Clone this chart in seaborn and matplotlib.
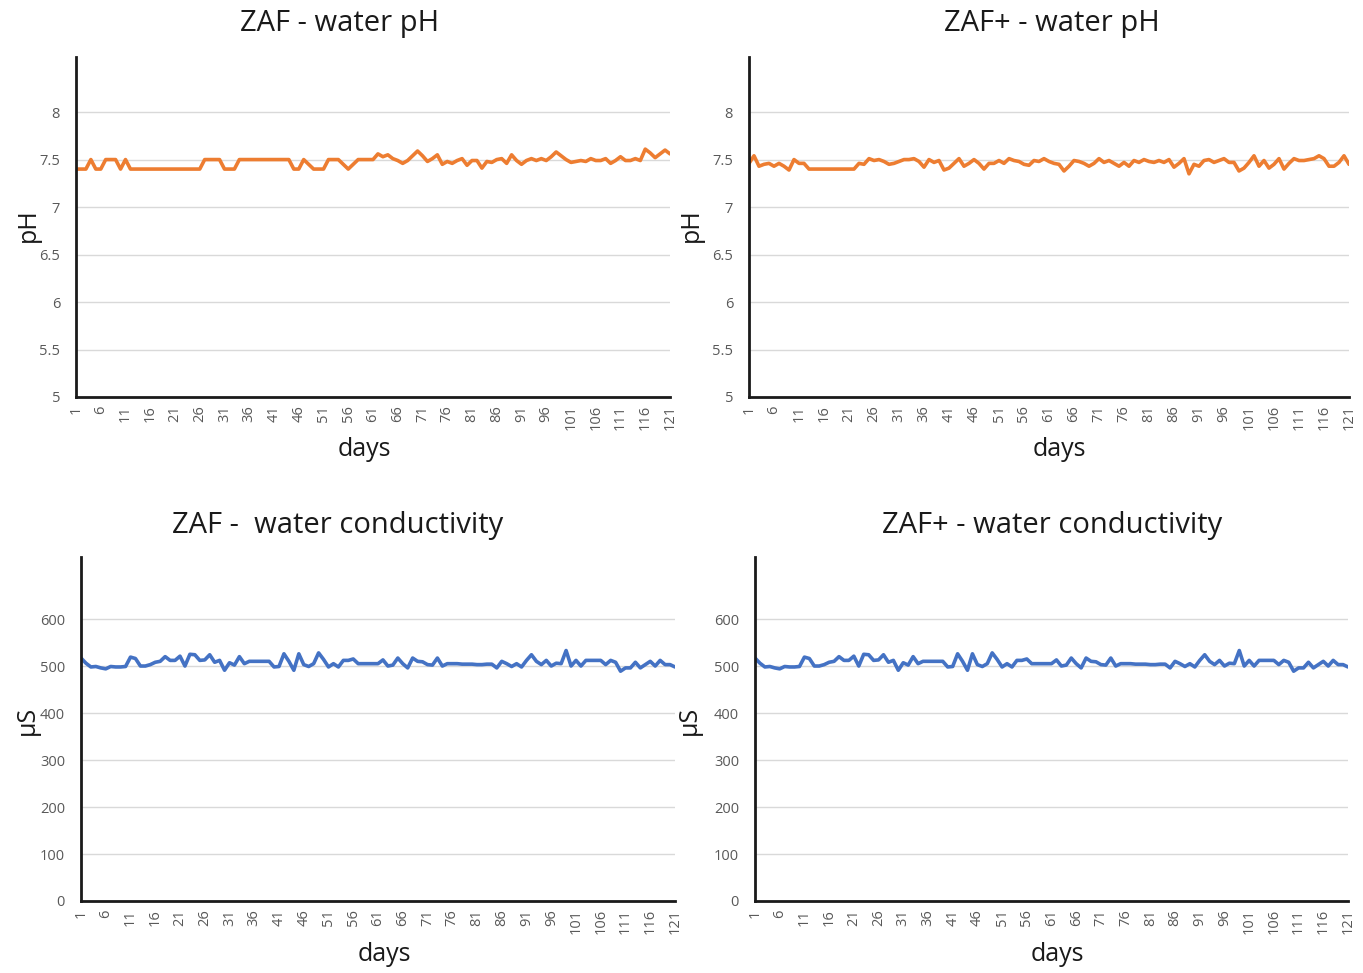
import numpy as np
import pandas as pd
import matplotlib
matplotlib.use("Agg")
import matplotlib.pyplot as plt
import seaborn as sns

# ---- data ----
days = list(range(1, 122))

ph_zaf = (
    [7.4, 7.4, 7.4, 7.5, 7.4, 7.4, 7.5, 7.5, 7.5, 7.4, 7.5]
    + [7.4] * 15
    + [7.5] * 4
    + [7.4] * 3
    + [7.5] * 11
    + [7.4, 7.4, 7.5, 7.45, 7.4, 7.4, 7.4, 7.5, 7.5, 7.5, 7.45, 7.4, 7.45,
       7.5, 7.5, 7.5, 7.5, 7.56]
    + [7.53, 7.55, 7.51, 7.49, 7.46, 7.49, 7.54, 7.59, 7.54, 7.48,
       7.51, 7.55, 7.45, 7.48, 7.46, 7.49, 7.51, 7.44, 7.49, 7.49,
       7.41, 7.48, 7.47, 7.5, 7.51, 7.46, 7.55, 7.49, 7.45, 7.49,
       7.51, 7.49, 7.51, 7.49, 7.53, 7.58, 7.54, 7.5, 7.47, 7.48,
       7.49, 7.48, 7.51, 7.49, 7.49, 7.51, 7.46, 7.49, 7.53, 7.49,
       7.49, 7.51, 7.49, 7.61, 7.57, 7.52, 7.56, 7.6, 7.56]
)

ph_zaf_plus = (
    [7.46, 7.54, 7.43, 7.45, 7.46, 7.43, 7.46, 7.43, 7.39, 7.5, 7.46, 7.46]
    + [7.4] * 10
    + [7.46, 7.45, 7.51, 7.49, 7.5, 7.48, 7.45, 7.46, 7.48, 7.5,
       7.5, 7.51, 7.48, 7.42, 7.5, 7.47, 7.49, 7.39, 7.41, 7.46,
       7.51, 7.43, 7.46, 7.5, 7.46, 7.4, 7.46, 7.46, 7.49, 7.46,
       7.51, 7.49, 7.48, 7.45, 7.44, 7.49, 7.48, 7.51, 7.48, 7.46]
    + [7.45, 7.38, 7.43, 7.49, 7.48, 7.46, 7.43, 7.46, 7.51, 7.47,
       7.49, 7.46, 7.43, 7.47, 7.43, 7.49, 7.47, 7.5, 7.48, 7.47,
       7.49, 7.47, 7.5, 7.42, 7.46, 7.51, 7.35, 7.45, 7.43, 7.49,
       7.5, 7.47, 7.49, 7.51, 7.47, 7.47, 7.38, 7.41, 7.47, 7.54,
       7.43, 7.49, 7.41, 7.45, 7.51, 7.4, 7.46, 7.51, 7.49, 7.49,
       7.5, 7.51, 7.54, 7.51, 7.43, 7.43, 7.47, 7.54, 7.45]
)

cond_zaf = [
    517, 506, 498, 499, 496, 494, 499, 498, 498, 499,
    519, 516, 500, 500, 503, 508, 510, 520, 512, 512,
    521, 500, 525, 524, 512, 513, 524, 508, 512, 491,
    507, 502, 520, 505, 510, 510, 510, 510, 510, 498,
    499, 526, 510, 491, 526, 503, 499, 505, 528, 514,
    498, 505, 498, 512, 512, 515, 505, 505, 505, 505,
    505, 513, 500, 502, 517, 505, 496, 517, 510, 509,
    503, 502, 517, 500, 505, 505, 505, 504, 504, 504,
    503, 503, 504, 504, 496, 510, 505, 499, 505, 498,
    512, 524, 510, 503, 512, 500, 506, 505, 533, 500,
    512, 500, 512, 512, 512, 512, 503, 512, 508, 489,
    496, 496, 508, 496, 503, 510, 500, 512, 503, 503,
    498,
]
cond_zaf_plus = list(cond_zaf)

ph_ticks = [5, 5.5, 6, 6.5, 7, 7.5, 8]
cond_ticks = [0, 100, 200, 300, 400, 500, 600]
day_ticks = list(range(1, 122, 5))

ORANGE = "#ED7D31"
BLUE = "#4472C4"
GRID = "#D9D9D9"
TICK = "#595959"

sns.set_theme(style="white")
plt.rcParams["font.family"] = ["Open Sans", "DejaVu Sans"]

fig = plt.figure(figsize=(13.63, 9.73), dpi=100)
W, H = 1363, 973


def px_axes(x0, x1, ytop, ybot):
    return fig.add_axes([x0 / W, 1 - ybot / H, (x1 - x0) / W, (ybot - ytop) / H])


panels = [
    dict(box=(76, 670, 57, 397), y=ph_zaf, ylim=(5, 8.58), ticks=ph_ticks,
         color=ORANGE, ylabel="pH", title="ZAF - water pH", tpos=(340, 24),
         xl=(0.485, -0.118), yl=(-0.059, 0.506)),
    dict(box=(749, 1349, 57, 397), y=ph_zaf_plus, ylim=(5, 8.58), ticks=ph_ticks,
         color=ORANGE, ylabel="pH", title="ZAF+ - water pH", tpos=(1052, 24),
         xl=(0.518, -0.118), yl=(-0.075, 0.506)),
    dict(box=(81, 675, 557, 901), y=cond_zaf, ylim=(0, 732), ticks=cond_ticks,
         color=BLUE, ylabel="µS", title="ZAF -  water conductivity", tpos=(338, 526),
         xl=(0.51, -0.119), yl=(-0.069, 0.526)),
    dict(box=(755, 1348, 557, 901), y=cond_zaf_plus, ylim=(0, 732), ticks=cond_ticks,
         color=BLUE, ylabel="µS", title="ZAF+ - water conductivity", tpos=(1052, 526),
         xl=(0.51, -0.119), yl=(-0.09, 0.526)),
]

for p in panels:
    ax = px_axes(*p["box"])
    df = pd.DataFrame({"day": days, "value": p["y"]})
    sns.lineplot(data=df, x="day", y="value", ax=ax, color=p["color"],
                 linewidth=2.6, zorder=3)
    ax.set_xlim(1, 121)
    ax.set_ylim(*p["ylim"])
    ax.set_yticks(p["ticks"])
    ax.set_yticklabels([f"{t:g}" for t in p["ticks"]])
    ax.set_xticks(day_ticks)
    ax.set_xticklabels([str(d) for d in day_ticks], rotation=90)
    ax.tick_params(axis="both", length=0, colors=TICK, labelsize=10.5)
    ax.tick_params(axis="y", pad=11.5)
    ax.tick_params(axis="x", pad=6)
    ax.grid(axis="y", color=GRID, linewidth=1.0, zorder=0)
    ax.grid(axis="x", visible=False)
    for side in ("top", "right"):
        ax.spines[side].set_visible(False)
    for side in ("left", "bottom"):
        ax.spines[side].set_color("#1a1a1a")
        ax.spines[side].set_linewidth(2.0)
        ax.spines[side].set_zorder(4)
    ax.set_xlabel("days", fontsize=18, color="#1a1a1a")
    ax.set_ylabel(p["ylabel"], fontsize=18, color="#1a1a1a")
    ax.xaxis.set_label_coords(*p["xl"])
    ax.yaxis.set_label_coords(*p["yl"])
    fig.text(p["tpos"][0] / W, 1 - p["tpos"][1] / H, p["title"],
             ha="center", va="center", fontsize=21, color="#1a1a1a")

fig.savefig("out.png", dpi=100)
